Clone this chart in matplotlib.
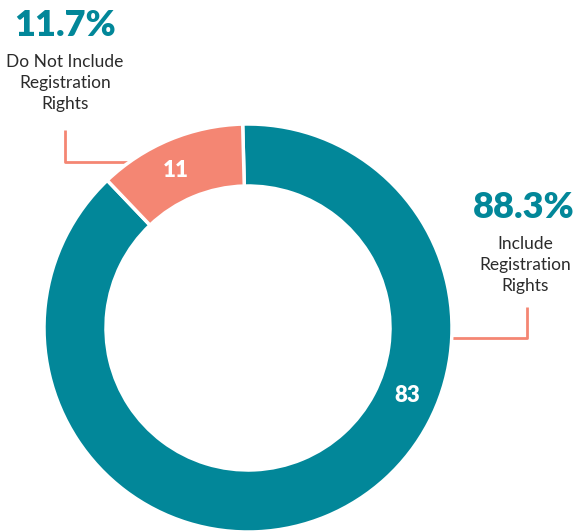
import matplotlib.pyplot as plt
import numpy as np

# data
categories = ["Include\nRegistration\nRights", "Do Not Include\nRegistration\nRights"]
counts = [83, 11]
colors = ["#028799", "#F48673"]

W, H = 583, 531
TEAL = "#028799"
SALMON = "#F48673"
TEXT = "#2b2b2b"

fig = plt.figure(figsize=(W / 100, H / 100), dpi=100)
ax = fig.add_axes([0, 0, 1, 1])

cx, cy = 248, H - 328
r_out, r_in = 204, 142

wedges, _ = ax.pie(
    counts,
    colors=colors,
    startangle=91.5,
    counterclock=False,
    radius=r_out,
    center=(cx, cy),
    frame=True,
    wedgeprops=dict(width=r_out - r_in, edgecolor="white", linewidth=2.5),
)
ax.set_xlim(0, W)
ax.set_ylim(0, H)
ax.set_aspect("equal")
ax.axis("off")

total = sum(counts)
pcts = ["{:.1f}%".format(100 * c / total) for c in counts]

# values inside the ring
r_mid = (r_out + r_in) / 2
for val, ang in zip(counts, [-23, 114.5]):
    a = np.deg2rad(ang)
    ax.text(cx + r_mid * np.cos(a), cy + r_mid * np.sin(a), str(val),
            ha="center", va="center", color="white", fontsize=16,
            fontweight="heavy", family="Lato")

# callouts
ax.text(524, H - 208, pcts[0], ha="center", va="center", color=TEAL,
        fontsize=26, fontweight="heavy", family="Lato")
ax.text(525, H - 265, categories[0], ha="center", va="center", color=TEXT,
        fontsize=12.5, family="Lato", linespacing=1.35)
ax.plot([527, 527, 452], [H - 307, H - 338, H - 338], color=SALMON, lw=2,
        zorder=0, solid_capstyle="butt")

ax.text(65, H - 25, pcts[1], ha="center", va="center", color=TEAL,
        fontsize=26, fontweight="heavy", family="Lato")
ax.text(65, H - 83, categories[1], ha="center", va="center", color=TEXT,
        fontsize=12.5, family="Lato", linespacing=1.35)
ax.plot([65, 65, 135], [H - 130, H - 162, H - 162], color=SALMON, lw=2,
        zorder=0, solid_capstyle="butt")

fig.savefig("out.png", dpi=100)
